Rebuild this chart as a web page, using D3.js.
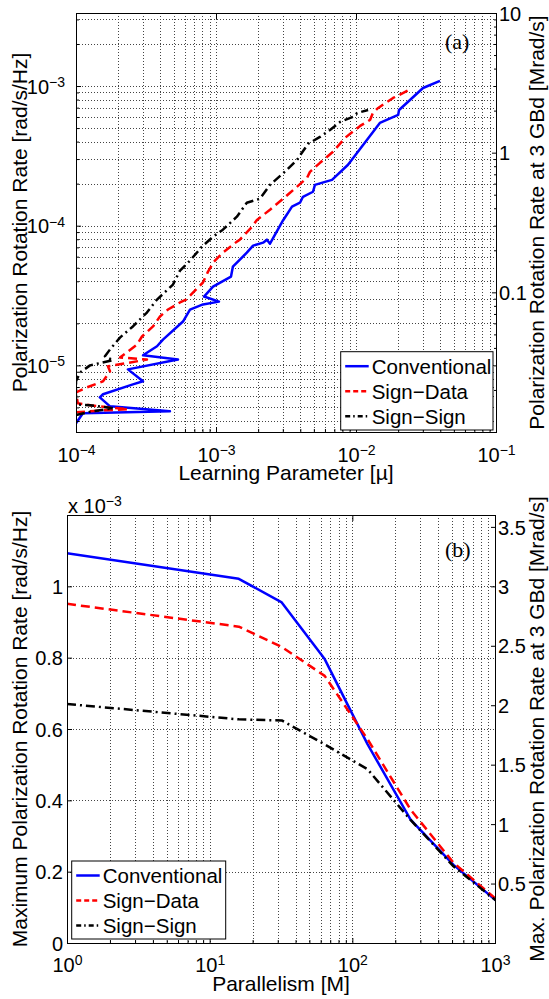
<!DOCTYPE html>
<html>
<head>
<meta charset="utf-8">
<script src="https://cdn.jsdelivr.net/npm/d3@7/dist/d3.min.js"></script>
<style>
  body { margin: 0; background: #fff; }
</style>
</head>
<body>
<div id="chart"></div>
<script>
/* (a) learning parameter mu vs polarization rotation rate [rad/s/Hz] */
const convMu = [1.0e-4, 1.12e-4, 4.69e-4, 1.75e-4, 1.48e-4, 1.56e-4, 2.55e-4, 3.01e-4, 2.35e-4, 5.35e-4,
  3.01e-4, 3.79e-4, 4.18e-4, 5.81e-4, 6.52e-4, 8.07e-4, 1.05e-3, 8.21e-4, 9.52e-4, 1.28e-3,
  1.32e-3, 1.66e-3, 1.84e-3, 2.17e-3, 2.31e-3, 2.43e-3, 3.01e-3, 3.49e-3, 3.98e-3, 4.18e-3,
  4.93e-3, 5.09e-3, 6.01e-3, 6.74e-3, 8.77e-3, 1.48e-2, 2.0e-2, 2.03e-2, 2.43e-2, 3.01e-2, 3.98e-2];
const convRate = [3.85e-6, 4.54e-6, 4.69e-6, 5.09e-6, 5.90e-6, 6.21e-6, 7.31e-6, 7.69e-6, 9.36e-6, 1.10e-5,
  1.18e-5, 1.37e-5, 1.53e-5, 2.06e-5, 2.51e-5, 2.73e-5, 2.86e-5, 3.11e-5, 3.66e-5, 4.32e-5,
  5.09e-5, 6.41e-5, 7.20e-5, 7.56e-5, 7.94e-5, 7.43e-5, 1.09e-4, 1.37e-4, 1.46e-4, 1.61e-4,
  1.75e-4, 1.96e-4, 2.06e-4, 2.13e-4, 2.73e-4, 5.44e-4, 6.21e-4, 6.74e-4, 7.94e-4, 9.68e-4, 1.09e-3];

const sdMu = [1.0e-4, 1.61e-4, 2.35e-4, 1.26e-4, 1.03e-4, 1.0e-4, 1.20e-4, 1.56e-4, 1.75e-4, 1.69e-4,
  3.21e-4, 2.06e-4, 2.31e-4, 2.73e-4, 2.96e-4, 3.55e-4, 3.98e-4, 4.54e-4, 5.53e-4, 6.11e-4,
  8.07e-4, 8.77e-4, 9.68e-4, 1.12e-3, 1.41e-3, 1.48e-3, 1.81e-3, 1.96e-3, 2.43e-3, 3.38e-3,
  4.47e-3, 4.69e-3, 5.53e-3, 6.85e-3, 8.34e-3, 1.07e-2, 1.26e-2, 1.32e-2, 1.44e-2, 1.84e-2, 2.47e-2];
const sdRate = [4.61e-6, 4.77e-6, 4.85e-6, 5.18e-6, 5.35e-6, 6.41e-6, 6.97e-6, 7.69e-6, 9.06e-6, 9.84e-6,
  1.10e-5, 1.14e-5, 1.24e-5, 1.41e-5, 1.61e-5, 1.90e-5, 2.24e-5, 2.51e-5, 2.82e-5, 2.96e-5,
  3.92e-5, 4.69e-5, 5.53e-5, 6.41e-5, 7.69e-5, 7.94e-5, 9.84e-5, 1.10e-4, 1.30e-4, 1.72e-4,
  2.20e-4, 2.43e-4, 2.82e-4, 3.38e-4, 4.25e-4, 5.18e-4, 5.72e-4, 6.41e-4, 6.97e-4, 8.21e-4, 9.52e-4];

const ssMu = [1.0e-4, 1.30e-4, 1.84e-4, 1.26e-4, 1.0e-4, 1.0e-4, 1.07e-4, 1.26e-4, 1.84e-4, 1.61e-4,
  1.75e-4, 2.06e-4, 2.55e-4, 3.21e-4, 3.79e-4, 4.93e-4, 5.53e-4, 6.52e-4, 7.94e-4, 9.52e-4,
  1.12e-3, 1.41e-3, 1.66e-3, 2.06e-3, 2.43e-3, 3.21e-3, 3.79e-3, 4.54e-3, 5.53e-3, 6.52e-3,
  7.69e-3, 9.52e-3, 1.02e-2, 1.22e-2];
const ssRate = [4.40e-6, 4.69e-6, 4.93e-6, 5.18e-6, 5.26e-6, 7.69e-6, 8.91e-6, 1.0e-5, 1.09e-5, 1.16e-5,
  1.30e-5, 1.58e-5, 1.90e-5, 2.39e-5, 2.96e-5, 3.79e-5, 4.77e-5, 5.62e-5, 7.08e-5, 8.34e-5,
  9.36e-5, 1.16e-4, 1.46e-4, 1.56e-4, 1.96e-4, 2.51e-4, 2.96e-4, 3.85e-4, 4.32e-4, 4.85e-4,
  5.53e-4, 6.01e-4, 6.41e-4, 6.74e-4];

/* (b) parallelism M vs maximum rotation rate [rad/s/Hz] */
const parallelism = [1, 16, 32, 64, 128, 256, 512, 1024];
const convMax = [1.093e-3, 1.021e-3, 0.955e-3, 0.796e-3, 0.557e-3, 0.346e-3, 0.219e-3, 0.118e-3];
const sdMax = [0.951e-3, 0.887e-3, 0.830e-3, 0.749e-3, 0.571e-3, 0.374e-3, 0.225e-3, 0.122e-3];
const ssMax = [0.670e-3, 0.627e-3, 0.624e-3, 0.557e-3, 0.487e-3, 0.345e-3, 0.215e-3, 0.118e-3];

const seriesNames = ['Conventional', 'Sign\u2212Data', 'Sign\u2212Sign'];
const baudRate = 3e9;              // right hand axes are rate * baud in Mrad/s
const rightTicksA = [0.1, 1, 10];
const leftTicksB = [0, 0.2, 0.4, 0.6, 0.8, 1, 1.2];
const rightTicksB = [0.5, 1, 1.5, 2, 2.5, 3, 3.5];

/////////////////////////////////////////////////////////////////////////////
//STYLING
const W = 549, H = 999;
const font = '"Liberation Sans", Arial, Helvetica, sans-serif';
const seriesStyle = [
  { color: '#0000ff', dash: null },
  { color: '#ff0000', dash: '9,5' },
  { color: '#000000', dash: '9,4,2,4' }
];
const boxA = { left: 76, right: 496, top: 13, bottom: 432 };
const boxB = { left: 67, right: 495, top: 515, bottom: 943 };

const svg = d3.select('#chart').append('svg')
  .attr('width', W).attr('height', H)
  .style('font-family', font);

const minus = v => String(v).replace('-', '\u2212');

// "10" with the exponent raised, like matlab log ticks
function powerLabel(text) {
  text.each(function (d) {
    const t = d3.select(this).text(null);
    t.append('tspan').text('10');
    t.append('tspan').attr('dy', '-0.48em').attr('font-size', '0.7em')
      .text(minus(Math.round(Math.log10(d))));
  });
}

function decades(scale) {
  const [a, b] = scale.domain();
  const out = [];
  for (let e = Math.ceil(Math.log10(a) - 1e-9); e <= Math.floor(Math.log10(b) + 1e-9); e++) out.push(Math.pow(10, e));
  return out;
}
const minors = scale => scale.ticks().filter(v => Math.abs(Math.log10(v) - Math.round(Math.log10(v))) > 1e-6);

function grid(g, box, xs, xVals, ys, yVals) {
  const px = v => Math.round(v) + 0.5;
  const inX = xVals.filter(v => xs(v) > box.left + 1 && xs(v) < box.right - 1);
  const inY = yVals.filter(v => ys(v) > box.top + 1 && ys(v) < box.bottom - 1);
  g.attr('stroke', '#444').attr('stroke-width', 1).attr('stroke-dasharray', '1,2');
  g.selectAll('line.gx').data(inX).join('line').attr('class', 'gx')
    .attr('x1', d => px(xs(d))).attr('x2', d => px(xs(d)))
    .attr('y1', box.top).attr('y2', box.bottom);
  g.selectAll('line.gy').data(inY).join('line').attr('class', 'gy')
    .attr('y1', d => px(ys(d))).attr('y2', d => px(ys(d)))
    .attr('x1', box.left).attr('x2', box.right);
}

function styleAxis(g) {
  g.attr('font-size', 20).attr('font-family', font);
  g.select('.domain').remove();
  g.selectAll('.tick line').attr('stroke', '#000');
}

function drawSeries(g, box, id, data, line) {
  g.append('clipPath').attr('id', id).append('rect')
    .attr('x', box.left).attr('y', box.top)
    .attr('width', box.right - box.left).attr('height', box.bottom - box.top);
  g.append('g').attr('clip-path', `url(#${id})`)
    .selectAll('path').data(data).join('path')
    .attr('d', line)
    .attr('fill', 'none')
    .attr('stroke', (d, i) => seriesStyle[i].color)
    .attr('stroke-dasharray', (d, i) => seriesStyle[i].dash)
    .attr('stroke-width', 2.5)
    .attr('stroke-linejoin', 'round');
}

function legend(x, y, w, h) {
  const g = svg.append('g').attr('transform', `translate(${x},${y})`);
  g.append('rect').attr('width', w).attr('height', h)
    .attr('fill', '#fff').attr('stroke', '#000').attr('stroke-width', 1);
  const row = g.selectAll('g').data(seriesNames).join('g')
    .attr('transform', (d, i) => `translate(0,${14.5 + i * 25})`);
  row.append('line').attr('x1', 4.5).attr('x2', 28).attr('y1', 0).attr('y2', 0)
    .attr('stroke', (d, i) => seriesStyle[i].color)
    .attr('stroke-dasharray', (d, i) => seriesStyle[i].dash ? '5,3' + (i === 2 ? ',1.5,3' : '') : null)
    .attr('stroke-width', 2.5);
  row.append('text').attr('x', 31).attr('dy', '0.36em')
    .attr('font-size', 20.5).text(d => d);
}

function frame(box) {
  svg.append('rect')
    .attr('x', box.left + 0.5).attr('y', box.top + 0.5)
    .attr('width', box.right - box.left).attr('height', box.bottom - box.top)
    .attr('fill', 'none').attr('stroke', '#000').attr('stroke-width', 1);
}

function yTitle(text, x, box, rot) {
  svg.append('text')
    .attr('transform', `translate(${x},${(box.top + box.bottom) / 2}) rotate(${rot})`)
    .attr('text-anchor', 'middle').attr('font-size', 21).text(text);
}

/////////////////////////////////////////////////////////////////////////////
// (a)
const xA = d3.scaleLog().domain([1e-4, 1e-1]).range([boxA.left, boxA.right]);
const yAr = d3.scaleLog().domain([0.01, 10]).range([boxA.bottom, boxA.top]);
const yA = d3.scaleLog().domain(yAr.domain().map(v => v * 1e6 / baudRate)).range([boxA.bottom, boxA.top]);

grid(svg.append('g'), boxA, xA, xA.ticks(), yA, yA.ticks());
drawSeries(svg.append('g'), boxA, 'clipA',
  [d3.zip(convMu, convRate), d3.zip(sdMu, sdRate), d3.zip(ssMu, ssRate)],
  d3.line().x(d => xA(d[0])).y(d => yA(d[1])));
frame(boxA);

svg.append('g').attr('transform', `translate(0,${boxA.bottom})`)
  .call(d3.axisBottom(xA).tickValues(decades(xA)).tickSizeInner(-5).tickSizeOuter(0).tickPadding(16))
  .call(styleAxis).call(g => g.selectAll('text').call(powerLabel));
svg.append('g').attr('transform', `translate(0,${boxA.bottom})`)
  .call(d3.axisBottom(xA).tickValues(minors(xA)).tickSizeInner(-3).tickSizeOuter(0).tickFormat(''))
  .call(styleAxis);
svg.append('g').attr('transform', `translate(0,${boxA.top + 1})`)
  .call(d3.axisTop(xA).tickValues(decades(xA)).tickSizeInner(-5).tickSizeOuter(0).tickFormat(''))
  .call(styleAxis);
svg.append('g').attr('transform', `translate(${boxA.left},0)`)
  .call(d3.axisLeft(yA).tickValues(decades(yA)).tickSizeInner(-5).tickSizeOuter(0).tickPadding(11))
  .call(styleAxis).call(g => g.selectAll('text').attr('dy', '0.36em').call(powerLabel));
svg.append('g').attr('transform', `translate(${boxA.left},0)`)
  .call(d3.axisLeft(yA).tickValues(minors(yA)).tickSizeInner(-3).tickSizeOuter(0).tickFormat(''))
  .call(styleAxis);
svg.append('g').attr('transform', `translate(${boxA.right + 1},0)`)
  .call(d3.axisRight(yAr).tickValues(rightTicksA).tickSizeInner(-5).tickSizeOuter(0).tickPadding(2).tickFormat(d3.format('~g')))
  .call(styleAxis).call(g => g.selectAll('text').attr('dy', '0.36em'));
svg.append('g').attr('transform', `translate(${boxA.right + 1},0)`)
  .call(d3.axisRight(yAr).tickValues(minors(yAr)).tickSizeInner(-3).tickSizeOuter(0).tickFormat(''))
  .call(styleAxis);

yTitle('Polarization Rotation Rate [rad/s/Hz]', 27, boxA, -90);
yTitle('Polarization Rotation Rate at 3 GBd [Mrad/s]', 544, boxA, -90);
svg.append('text').attr('x', (boxA.left + boxA.right) / 2).attr('y', boxA.bottom + 48)
  .attr('text-anchor', 'middle').attr('font-size', 21).text('Learning Parameter [\u00b5]');
svg.append('text').attr('x', 445).attr('y', 49)
  .attr('font-family', '"Liberation Serif", "Times New Roman", serif').attr('font-size', 22).text('(a)');
legend(340.7, 351.7, 152.3, 78.3);

/////////////////////////////////////////////////////////////////////////////
// (b)
const xB = d3.scaleLog().domain([1, 1000]).range([boxB.left, boxB.right]);
const yB = d3.scaleLinear().domain([0, 1.2e-3]).range([boxB.bottom, boxB.top]);
const yBr = d3.scaleLinear().domain(yB.domain().map(v => v * baudRate / 1e6)).range([boxB.bottom, boxB.top]);

grid(svg.append('g'), boxB, xB, xB.ticks(), yB, leftTicksB.map(v => v * 1e-3));
drawSeries(svg.append('g'), boxB, 'clipB',
  [d3.zip(parallelism, convMax), d3.zip(parallelism, sdMax), d3.zip(parallelism, ssMax)],
  d3.line().x(d => xB(d[0])).y(d => yB(d[1])));
frame(boxB);

svg.append('g').attr('transform', `translate(0,${boxB.bottom})`)
  .call(d3.axisBottom(xB).tickValues(decades(xB)).tickSizeInner(-5).tickSizeOuter(0).tickPadding(15))
  .call(styleAxis).call(g => g.selectAll('text').call(powerLabel));
svg.append('g').attr('transform', `translate(0,${boxB.bottom})`)
  .call(d3.axisBottom(xB).tickValues(minors(xB)).tickSizeInner(-3).tickSizeOuter(0).tickFormat(''))
  .call(styleAxis);
svg.append('g').attr('transform', `translate(0,${boxB.top + 1})`)
  .call(d3.axisTop(xB).tickValues(decades(xB)).tickSizeInner(-5).tickSizeOuter(0).tickFormat(''))
  .call(styleAxis);
svg.append('g').attr('transform', `translate(${boxB.left},0)`)
  .call(d3.axisLeft(yB).tickValues(leftTicksB.slice(0, -1).map(v => v * 1e-3)).tickSizeInner(-5).tickSizeOuter(0)
    .tickPadding(4).tickFormat(d => d3.format('~g')(+(d * 1e3).toFixed(3))))
  .call(styleAxis).call(g => g.selectAll('text').attr('dy', '0.36em'));
svg.append('g').attr('transform', `translate(${boxB.right + 1},0)`)
  .call(d3.axisRight(yBr).tickValues(rightTicksB).tickSizeInner(-5).tickSizeOuter(0).tickPadding(2).tickFormat(d3.format('~g')))
  .call(styleAxis).call(g => g.selectAll('text').attr('dy', '0.36em'));

const scaleNote = svg.append('text').attr('x', 68).attr('y', 513).attr('font-size', 20);
scaleNote.append('tspan').text('x 10');
scaleNote.append('tspan').attr('dy', '-0.48em').attr('font-size', '0.7em').text('\u22123');

yTitle('Maximum Polarization Rotation Rate [rad/s/Hz]', 27, boxB, -90);
yTitle('Max. Polarization Rotation Rate at 3 GBd [Mrad/s]', 544, boxB, -90);
svg.append('text').attr('x', (boxB.left + boxB.right) / 2).attr('y', boxB.bottom + 48)
  .attr('text-anchor', 'middle').attr('font-size', 21).text('Parallelism [M]');
svg.append('text').attr('x', 445).attr('y', 557)
  .attr('font-family', '"Liberation Serif", "Times New Roman", serif').attr('font-size', 22).text('(b)');
legend(71.7, 861, 154, 78);
</script>
</body>
</html>
